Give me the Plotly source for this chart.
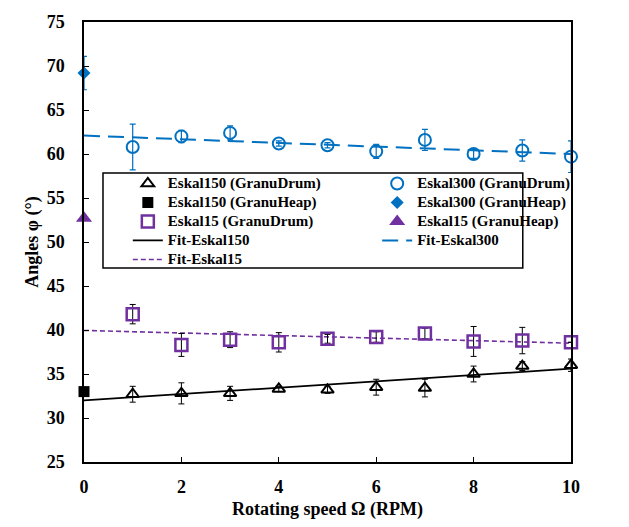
import plotly.graph_objects as go

rpm = [1, 2, 3, 4, 5, 6, 7, 8, 9, 10]

eskal150_drum = [32.7, 32.8, 32.8, 33.3, 33.2, 33.5, 33.4, 35.0, 35.9, 36.0]
eskal150_drum_err = [0.9, 1.2, 0.8, 0.3, 0.4, 0.9, 1.0, 0.9, 0.5, 0.7]

eskal300_drum = [60.8, 62.0, 62.4, 61.2, 61.0, 60.3, 61.6, 60.0, 60.4, 59.7]
eskal300_drum_err = [2.6, 0.7, 0.8, 0.3, 0.3, 0.8, 1.2, 0.5, 1.2, 1.8]

eskal15_drum = [41.8, 38.3, 38.9, 38.6, 39.0, 39.2, 39.6, 38.7, 38.8, 38.6]
eskal15_drum_err = [1.1, 1.3, 0.9, 1.1, 0.5, 0.6, 0.6, 1.7, 1.5, 0.0]

heap_x = [0]
eskal150_heap = [33.0]
eskal300_heap = [69.2]
eskal300_heap_err = [1.9]
eskal15_heap = [52.7]

fit_x = [0, 10]
fit_eskal150 = [32.0, 35.6]
fit_eskal300 = [62.1, 60.0]
fit_eskal15 = [39.95, 38.5]

x_ticks = [0, 2, 4, 6, 8, 10]
y_ticks = [25, 30, 35, 40, 45, 50, 55, 60, 65, 70, 75]

BLUE = "#0070C0"
PURPLE = "#7030A0"
BLACK = "#000000"
FONT = "Liberation Serif"


def lg(text):
    return '<span style="font-size:15px"><b>' + text + '</b></span>'


fig = go.Figure()

# Fit lines (drawn first, below markers)
fig.add_trace(go.Scatter(x=fit_x, y=fit_eskal150, mode="lines", name=lg("Fit-Eskal150"),
                         line=dict(color=BLACK, width=1.8), legend="legend", legendrank=4))
fig.add_trace(go.Scatter(x=fit_x, y=fit_eskal300, mode="lines", name=lg("Fit-Eskal300"),
                         line=dict(color=BLUE, width=2, dash="16px,8px"), legend="legend2", legendrank=4))
fig.add_trace(go.Scatter(x=fit_x, y=fit_eskal15, mode="lines", name=lg("Fit-Eskal15"),
                         line=dict(color=PURPLE, width=1.6, dash="5px,3px"), legend="legend", legendrank=5))

# Drum data
fig.add_trace(go.Scatter(x=rpm, y=eskal150_drum, mode="markers", name=lg("Eskal150 (GranuDrum)"),
                         marker=dict(symbol="triangle-up-open", size=11, color=BLACK, line=dict(width=2, color=BLACK)),
                         error_y=dict(type="data", array=eskal150_drum_err, color=BLACK, thickness=1, width=3),
                         cliponaxis=False, legend="legend", legendrank=1))
fig.add_trace(go.Scatter(x=rpm, y=eskal300_drum, mode="markers", name=lg("Eskal300 (GranuDrum)"),
                         marker=dict(symbol="circle-open", size=12, color=BLUE, line=dict(width=2, color=BLUE)),
                         error_y=dict(type="data", array=eskal300_drum_err, color=BLUE, thickness=1.2, width=3),
                         cliponaxis=False, legend="legend2", legendrank=1))
fig.add_trace(go.Scatter(x=rpm, y=eskal15_drum, mode="markers", name=lg("Eskal15 (GranuDrum)"),
                         marker=dict(symbol="square-open", size=12, color=PURPLE, line=dict(width=2.5, color=PURPLE)),
                         error_y=dict(type="data", array=eskal15_drum_err, color=BLACK, thickness=1, width=3),
                         cliponaxis=False, legend="legend", legendrank=3))

# Heap data
fig.add_trace(go.Scatter(x=heap_x, y=eskal150_heap, mode="markers", name=lg("Eskal150 (GranuHeap)"),
                         marker=dict(symbol="square", size=11, color=BLACK),
                         cliponaxis=False, legend="legend", legendrank=2))
fig.add_trace(go.Scatter(x=heap_x, y=eskal300_heap, mode="markers", name=lg("Eskal300 (GranuHeap)"),
                         marker=dict(symbol="diamond", size=10, color=BLUE),
                         error_y=dict(type="data", array=eskal300_heap_err, color=BLUE, thickness=1.2, width=3),
                         cliponaxis=False, legend="legend2", legendrank=2))
fig.add_trace(go.Scatter(x=heap_x, y=eskal15_heap, mode="markers", name=lg("Eskal15 (GranuHeap)"),
                         marker=dict(symbol="triangle-up", size=14, color=PURPLE),
                         cliponaxis=False, legend="legend2", legendrank=3))

legend_common = dict(font=dict(family=FONT, size=12.1, color=BLACK), bgcolor="rgba(0,0,0,0)",
                     borderwidth=0, yanchor="top", xanchor="left", tracegroupgap=0,
                     itemwidth=30)

fig.update_layout(
    width=621, height=519,
    margin=dict(l=76, r=58, t=14, b=65),
    paper_bgcolor="white", plot_bgcolor="white",
    font=dict(family=FONT, color=BLACK),
    legend=dict(x=0.090, y=0.666, **legend_common),
    legend2=dict(x=0.602, y=0.666, **legend_common),
    xaxis=dict(range=[0, 10], tickvals=x_ticks, ticktext=["<b>%d</b>" % v for v in x_ticks],
               ticks="inside", ticklen=5,
               tickcolor=BLACK, showline=True, linecolor=BLACK, linewidth=1.5, mirror=True,
               showgrid=False, zeroline=False, automargin=False,
               tickfont=dict(family=FONT, size=18, color=BLACK), ticklabelstandoff=8,
               title=dict(text="<b>Rotating speed Ω (RPM)</b>", font=dict(family=FONT, size=18), standoff=6)),
    yaxis=dict(range=[25, 75], tickvals=y_ticks, ticktext=["<b>%d</b>" % v for v in y_ticks],
               ticks="inside", ticklen=5,
               tickcolor=BLACK, showline=True, linecolor=BLACK, linewidth=1.5, mirror=True,
               showgrid=False, zeroline=False, automargin=False,
               tickfont=dict(family=FONT, size=18, color=BLACK), ticklabelstandoff=14,
               title=dict(text="<b>Angles φ (°)</b>", font=dict(family=FONT, size=18), standoff=3)),
    shapes=[dict(type="rect", xref="paper", yref="paper", x0=0.039, x1=0.901, y0=0.441, y1=0.657,
                 line=dict(color=BLACK, width=1.5), fillcolor="rgba(0,0,0,0)", layer="above")],
)

fig.write_html("out.html")
